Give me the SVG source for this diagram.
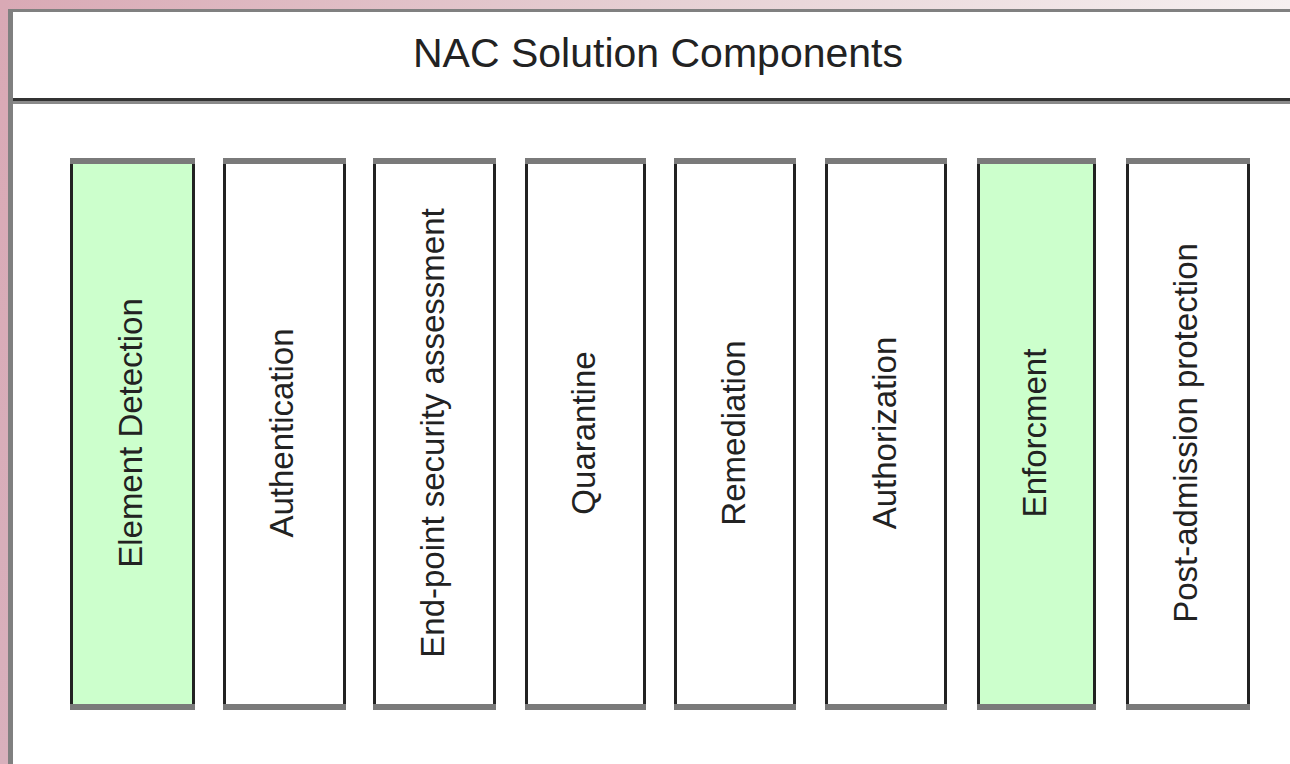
<svg xmlns="http://www.w3.org/2000/svg" width="1290" height="764" viewBox="0 0 1290 764">
  <defs>
    <linearGradient id="topbg" x1="0" y1="0" x2="1" y2="0">
      <stop offset="0" stop-color="#d9a9b5"/>
      <stop offset="0.5" stop-color="#e6cfd3"/>
      <stop offset="1" stop-color="#f6f0f0"/>
    </linearGradient>
    <linearGradient id="leftbg" x1="0" y1="0" x2="0" y2="1">
      <stop offset="0" stop-color="#d9a9b5"/>
      <stop offset="1" stop-color="#d8b0bc"/>
    </linearGradient>
  </defs>
  <style>
    .lbl { font-family: "Liberation Sans", Arial, sans-serif; font-size: 33px; fill: #222; text-anchor: middle; }
    .title { font-family: "Liberation Sans", Arial, sans-serif; font-size: 41px; fill: #222; text-anchor: middle; }
    .box { stroke: none; }
    .white { fill: #ffffff; }
    .green { fill: #ccffcc; }
    .side { stroke: #222; stroke-width: 3; fill: none; }
    .cap { stroke: #7a7a7a; stroke-width: 6; fill: none; }
  </style>
  <!-- background -->
  <rect x="0" y="0" width="1290" height="764" fill="#ffffff"/>
  <rect x="0" y="0" width="1290" height="10" fill="url(#topbg)"/>
  <rect x="0" y="0" width="8" height="764" fill="url(#leftbg)"/>
  <!-- outer frame -->
  <g id="frame">
    <line x1="10.5" y1="10.5" x2="1290" y2="10.5" stroke="#808080" stroke-width="3"/>
    <line x1="10.5" y1="9" x2="10.5" y2="764" stroke="#808080" stroke-width="5"/>
    <line x1="13" y1="99.5" x2="1290" y2="99.5" stroke="#333333" stroke-width="3"/>
    <line x1="13" y1="102.5" x2="1290" y2="102.5" stroke="#8a8a8a" stroke-width="3"/>
  </g>
  <g id="title">
    <text class="title" x="658" y="67">NAC Solution Components</text>
  </g>
  <g id="connectors"></g>
  <g id="n1">
    <rect class="box green" x="70" y="158" width="125" height="552"/>
    <path class="side" d="M71.5 160V708M193.5 160V708"/>
    <path class="cap" d="M70 161H195M70 707H195"/>
    <text class="lbl" transform="translate(142,433) rotate(-90)">Element Detection</text>
  </g>
  <g id="n2">
    <rect class="box white" x="223" y="158" width="123" height="552"/>
    <path class="side" d="M224.5 160V708M344.5 160V708"/>
    <path class="cap" d="M223 161H346M223 707H346"/>
    <text class="lbl" transform="translate(293,433) rotate(-90)">Authentication</text>
  </g>
  <g id="n3">
    <rect class="box white" x="373" y="158" width="123" height="552"/>
    <path class="side" d="M374.5 160V708M494.5 160V708"/>
    <path class="cap" d="M373 161H496M373 707H496"/>
    <text class="lbl" transform="translate(444,433) rotate(-90)">End-point security assessment</text>
  </g>
  <g id="n4">
    <rect class="box white" x="525" y="158" width="121" height="552"/>
    <path class="side" d="M526.5 160V708M644.5 160V708"/>
    <path class="cap" d="M525 161H646M525 707H646"/>
    <text class="lbl" transform="translate(595,433) rotate(-90)">Quarantine</text>
  </g>
  <g id="n5">
    <rect class="box white" x="674" y="158" width="122" height="552"/>
    <path class="side" d="M675.5 160V708M794.5 160V708"/>
    <path class="cap" d="M674 161H796M674 707H796"/>
    <text class="lbl" transform="translate(745,433) rotate(-90)">Remediation</text>
  </g>
  <g id="n6">
    <rect class="box white" x="825" y="158" width="122" height="552"/>
    <path class="side" d="M826.5 160V708M945.5 160V708"/>
    <path class="cap" d="M825 161H947M825 707H947"/>
    <text class="lbl" transform="translate(896,433) rotate(-90)">Authorization</text>
  </g>
  <g id="n7">
    <rect class="box green" x="977" y="158" width="119" height="552"/>
    <path class="side" d="M978.5 160V708M1094.5 160V708"/>
    <path class="cap" d="M977 161H1096M977 707H1096"/>
    <text class="lbl" transform="translate(1046,433) rotate(-90)">Enforcment</text>
  </g>
  <g id="n8">
    <rect class="box white" x="1126" y="158" width="124" height="552"/>
    <path class="side" d="M1127.5 160V708M1248.5 160V708"/>
    <path class="cap" d="M1126 161H1250M1126 707H1250"/>
    <text class="lbl" transform="translate(1197,433) rotate(-90)">Post-admission protection</text>
  </g>
</svg>
